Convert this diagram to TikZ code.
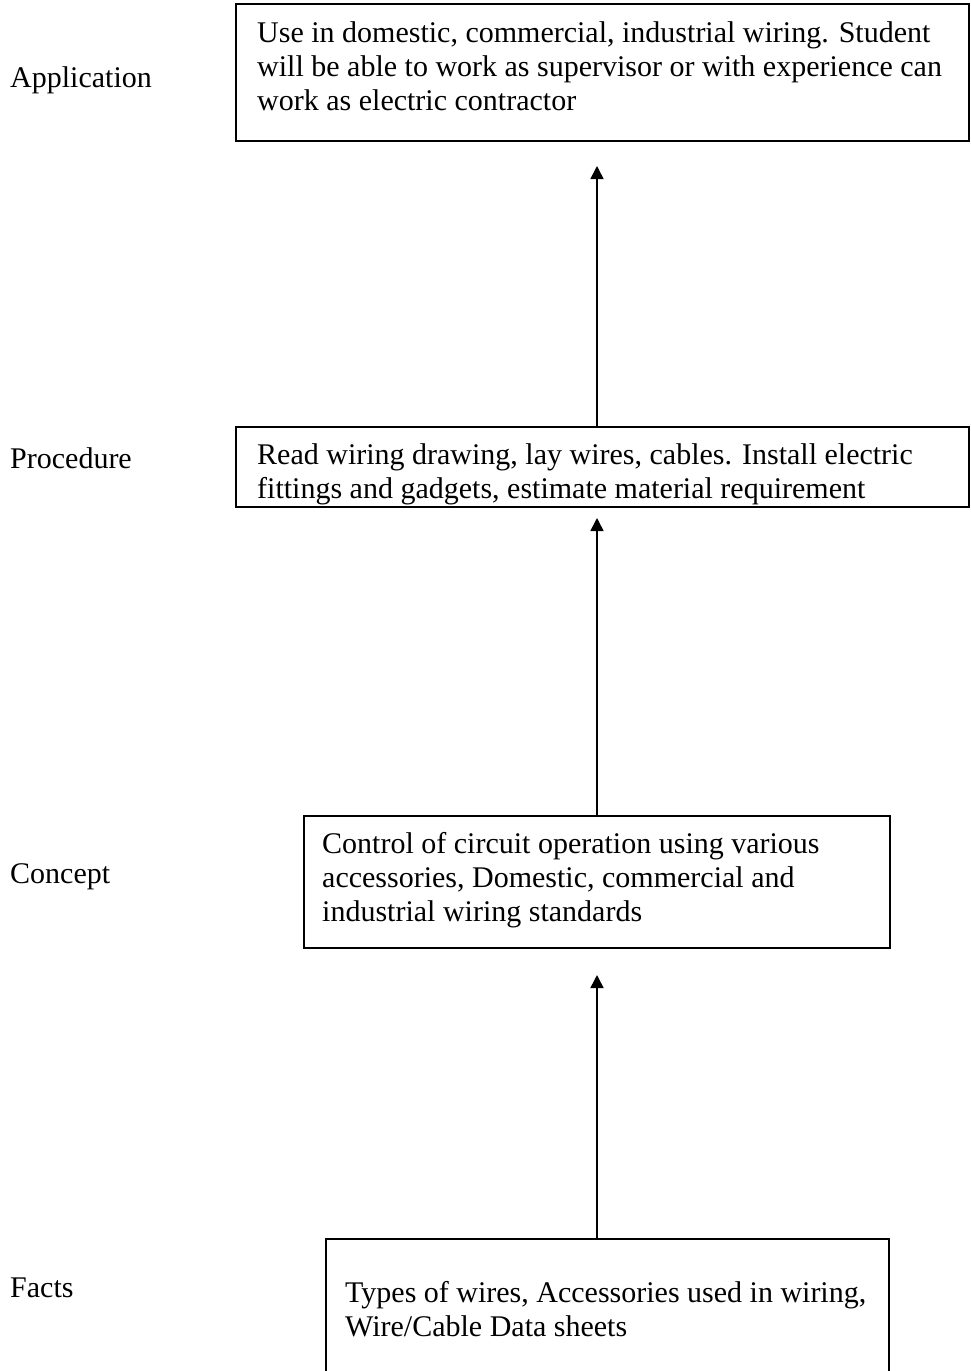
\documentclass[tikz,border=0pt]{standalone}
\usepackage{fontspec}
\setmainfont{Liberation Serif}
\usetikzlibrary{arrows.meta,calc}
\tikzset{
  box/.style={draw, line width=1.6pt, inner sep=0pt, anchor=north west},
  txt/.style={inner sep=0pt, anchor=base west, font=\fontsize{30}{34}\selectfont},
  lbl/.style={inner sep=0pt, anchor=base west, font=\fontsize{30}{34}\selectfont},
  arr/.style={line width=1.6pt, -{Triangle[width=13pt,length=13pt]}}
}
\newcommand{\lines}[1]{\parbox[t]{800pt}{\raggedright #1}}
\begin{document}
\begin{tikzpicture}[x=1pt,y=-1pt]
\clip (0,0) rectangle (970,1371);
\useasboundingbox (0,0) rectangle (970,1371);
% labels
\node[lbl] (lapp) at (10,87) {Application};
\node[lbl] (lproc) at (10,468) {Procedure};
\node[lbl] (lcon) at (10,883) {Concept};
\node[lbl] (lfact) at (10,1297) {Facts};
% boxes
\node[box, minimum width=733pt, minimum height=137pt] (app) at (235,3) {};
\node[txt] (tapp) at (257,42) {\lines{Use in domestic, commercial, industrial wiring. Student\\will be able to work as supervisor or with experience can\\work as electric contractor}};
\node[box, minimum width=733pt, minimum height=80pt] (proc) at (235,426) {};
\begin{scope}
\clip (proc.north west) rectangle (proc.south east);
\node[txt] (tproc) at (257,464) {\lines{Read wiring drawing, lay wires, cables. Install electric\\fittings and gadgets, estimate material requirement}};
\end{scope}
\node[box, minimum width=586pt, minimum height=132pt] (con) at (303,815) {};
\node[txt] (tcon) at (322,853) {\lines{Control of circuit operation using various\\accessories, Domestic, commercial and\\industrial wiring standards}};
\node[box, minimum width=563pt, minimum height=160pt] (fact) at (325,1238) {};
\node[txt] (tfact) at (345,1302) {\lines{Types of wires, Accessories used in wiring,\\Wire/Cable Data sheets}};
% arrows
\coordinate (t1) at (597,166);
\coordinate (t2) at (597,518);
\coordinate (t3) at (597,975);
\draw[arr] (proc.north -| t1) -- (t1);
\draw[arr] (con.north -| t2) -- (t2);
\draw[arr] (fact.north -| t3) -- (t3);
\end{tikzpicture}
\end{document}
